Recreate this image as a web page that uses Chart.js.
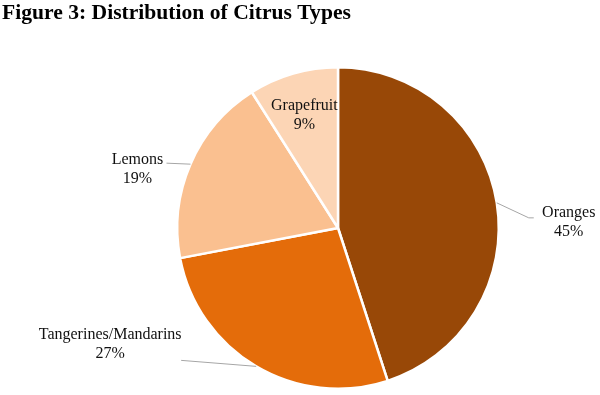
<!DOCTYPE html>
<html>
<head>
<meta charset="utf-8">
<script src="https://cdn.jsdelivr.net/npm/chart.js@4"></script>
<style>
  html, body { margin: 0; padding: 0; background: #fff; }
  #wrap { width: 600px; height: 395px; position: relative; }
</style>
</head>
<body>
<div id="wrap"><canvas id="chart-3"></canvas></div>
<script>
  const citrusLabels = ['Oranges', 'Tangerines/Mandarins', 'Lemons', 'Grapefruit'];
  const citrusShares = [45, 27, 19, 9];
  const citrusColors = ['#984807', '#E46C0A', '#FAC090', '#FCD5B5'];

  // where each label sits, relative to the slice's outer edge at its mid angle
  const labelPlacement = [
    { dx: 72, dy: 10, line: [[32, 15], [37, 15]] },
    { dx: -146, dy: -32, line: [[-75, -6]] },
    { dx: -53, dy: -4, line: [[-24, -1]] },
    { inside: 0.75 }
  ];

  const labelPlugin = {
    id: 'sliceLabels',
    afterDatasetsDraw(chart) {
      const ctx = chart.ctx;
      const meta = chart.getDatasetMeta(0);
      ctx.save();
      ctx.font = '16px "Liberation Serif", "Times New Roman", serif';
      ctx.textAlign = 'center';
      ctx.textBaseline = 'middle';
      meta.data.forEach((arc, i) => {
        const p = arc.getProps(['x', 'y', 'startAngle', 'endAngle', 'outerRadius'], true);
        const mid = (p.startAngle + p.endAngle) / 2;
        const place = labelPlacement[i];
        const pct = Math.round(citrusShares[i] / citrusShares.reduce((a, b) => a + b, 0) * 100) + '%';
        let tx, ty;
        if (place.inside) {
          tx = p.x + Math.cos(mid) * p.outerRadius * place.inside;
          ty = p.y + Math.sin(mid) * p.outerRadius * place.inside;
          ty -= 6;
        } else {
          const ex = p.x + Math.cos(mid) * p.outerRadius;
          const ey = p.y + Math.sin(mid) * p.outerRadius;
          ctx.strokeStyle = '#a6a6a6';
          ctx.lineWidth = 1;
          ctx.beginPath();
          ctx.moveTo(ex, ey);
          place.line.forEach(pt => ctx.lineTo(ex + pt[0], ey + pt[1]));
          ctx.stroke();
          tx = ex + place.dx;
          ty = ey + place.dy;
        }
        ctx.fillStyle = '#111';
        ctx.fillText(citrusLabels[i], tx, ty);
        ctx.fillText(pct, tx, ty + 19);
      });
      ctx.restore();
    }
  };

  const titlePlugin = {
    id: 'figTitle',
    afterDraw(chart) {
      const ctx = chart.ctx;
      ctx.save();
      ctx.font = 'bold 21.6px "Liberation Serif", "Times New Roman", serif';
      ctx.fillStyle = '#000';
      ctx.textAlign = 'left';
      ctx.textBaseline = 'alphabetic';
      ctx.fillText('Figure 3: Distribution of Citrus Types', 2, 19);
      ctx.restore();
    }
  };

  const citrusData = {
    labels: citrusLabels,
    datasets: [{
      data: citrusShares,
      backgroundColor: citrusColors,
      borderColor: '#ffffff',
      borderWidth: 2.5
    }]
  };

  const citrusConfig = {
    type: 'pie',
    data: citrusData,
    options: {
      responsive: true,
      maintainAspectRatio: false,
      animation: false,
      layout: { padding: { left: 176, top: 66, right: 100, bottom: 5 } },
      plugins: {
        legend: { display: false },
        tooltip: { enabled: false }
      }
    },
    plugins: [labelPlugin, titlePlugin]
  };

  const chart3 = new Chart(document.getElementById('chart-3'), citrusConfig);
</script>
</body>
</html>
